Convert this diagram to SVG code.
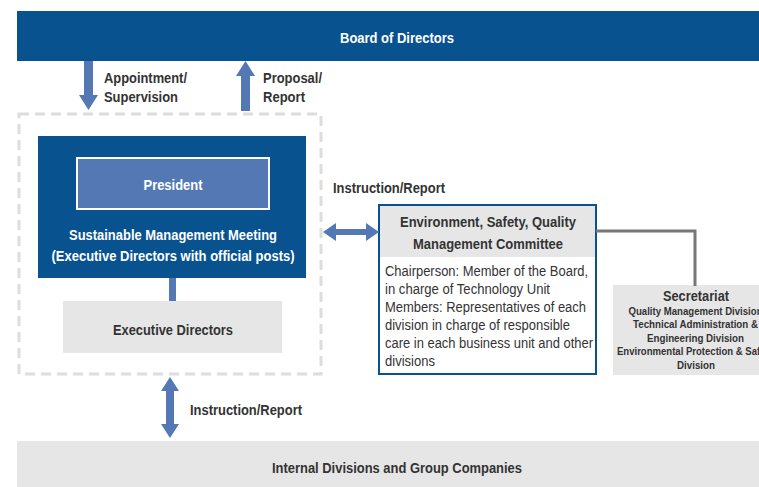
<svg xmlns="http://www.w3.org/2000/svg" width="759" height="487" viewBox="0 0 759 487">
<style>
text{font-family:"Liberation Sans",Arial,sans-serif;font-size:14px;fill:#333}
.b{font-weight:bold}
.w{fill:#fff}
.c{text-anchor:middle}
.s{font-size:11px;font-weight:bold}
.blue{fill:#07528f}
.gray{fill:#e6e6e6}
.arr{fill:#5478b4}
</style>
<rect width="759" height="487" fill="#fff"/>
<g id="board"><rect class="blue" x="17" y="11" width="742" height="50"/><text class="b w c" x="397" y="43" textLength="114" lengthAdjust="spacingAndGlyphs">Board of Directors</text></g>
<g id="group-box"><rect x="19" y="114" width="302" height="260" fill="none" stroke="#ddd" stroke-width="3" stroke-dasharray="10 6"/></g>
<g id="sustainable"><rect class="blue" x="38" y="136" width="268" height="142"/><text class="b w c" x="173" y="240" textLength="208" lengthAdjust="spacingAndGlyphs">Sustainable Management Meeting</text><text class="b w c" x="173" y="261" textLength="243" lengthAdjust="spacingAndGlyphs">(Executive Directors with official posts)</text></g>
<g id="president"><rect x="77" y="158" width="192" height="51" fill="#5478b4" stroke="#fff" stroke-width="2"/><text class="b w c" x="173" y="190" textLength="59" lengthAdjust="spacingAndGlyphs">President</text></g>
<g id="exec"><rect class="gray" x="63" y="301" width="219" height="52"/><text class="b c" x="173" y="335" textLength="120" lengthAdjust="spacingAndGlyphs">Executive Directors</text></g>
<g id="committee"><rect class="gray" x="379" y="205" width="217" height="52"/><rect x="379" y="205" width="217" height="169" fill="none" stroke="#07528f" stroke-width="2"/>
<text class="b c" x="488" y="227" textLength="176" lengthAdjust="spacingAndGlyphs">Environment, Safety, Quality</text><text class="b c" x="488" y="249" textLength="150" lengthAdjust="spacingAndGlyphs">Management Committee</text>
<text x="385" y="276" textLength="203" lengthAdjust="spacingAndGlyphs">Chairperson: Member of the Board,</text>
<text x="385" y="294" textLength="165" lengthAdjust="spacingAndGlyphs">in charge of Technology Unit</text>
<text x="385" y="312" textLength="201" lengthAdjust="spacingAndGlyphs">Members: Representatives of each</text>
<text x="385" y="330" textLength="185" lengthAdjust="spacingAndGlyphs">division in charge of responsible</text>
<text x="385" y="348" textLength="208" lengthAdjust="spacingAndGlyphs">care in each business unit and other</text>
<text x="385" y="366" textLength="50" lengthAdjust="spacingAndGlyphs">divisions</text></g>
<g id="secretariat"><rect class="gray" x="613" y="285" width="146" height="90"/>
<text class="b c" x="696" y="301" textLength="66" lengthAdjust="spacingAndGlyphs">Secretariat</text>
<text class="s c" x="695.5" y="315" textLength="134" lengthAdjust="spacingAndGlyphs">Quality Management Division</text>
<text class="s c" x="695.5" y="328" textLength="125" lengthAdjust="spacingAndGlyphs">Technical Administration &amp;</text>
<text class="s c" x="695.5" y="342" textLength="97" lengthAdjust="spacingAndGlyphs">Engineering Division</text>
<text class="s c" x="695.5" y="355" textLength="157" lengthAdjust="spacingAndGlyphs">Environmental Protection &amp; Safety</text>
<text class="s c" x="696" y="369" textLength="38" lengthAdjust="spacingAndGlyphs">Division</text></g>
<g id="internal"><rect class="gray" x="17" y="441" width="742" height="46"/><text class="b c" x="397" y="473" textLength="250" lengthAdjust="spacingAndGlyphs">Internal Divisions and Group Companies</text></g>
<g id="connectors">
<polygon class="arr" points="84,61 93,61 93,95 98,95 88.5,110 79,95 84,95"/>
<polygon class="arr" points="241,111 250,111 250,76 255,76 245.5,61 236,76 241,76"/>
<rect class="arr" x="169" y="278" width="7" height="23"/>
<polygon class="arr" points="323,232 336,223 336,229 366,229 366,223 379,232 366,241 366,235 336,235 336,241"/>
<polygon class="arr" points="170,377 179,391 174,391 174,424 179,424 170,438 161,424 166,424 166,391 161,391"/>
<polyline points="596,231 695,231 695,286" fill="none" stroke="#777" stroke-width="3"/>
<text class="b" x="104" y="83" textLength="83" lengthAdjust="spacingAndGlyphs">Appointment/</text><text class="b" x="104" y="102" textLength="74" lengthAdjust="spacingAndGlyphs">Supervision</text>
<text class="b" x="263" y="83" textLength="59" lengthAdjust="spacingAndGlyphs">Proposal/</text><text class="b" x="263" y="102" textLength="42" lengthAdjust="spacingAndGlyphs">Report</text>
<text class="b" x="333" y="193" textLength="112" lengthAdjust="spacingAndGlyphs">Instruction/Report</text>
<text class="b" x="190" y="415" textLength="112" lengthAdjust="spacingAndGlyphs">Instruction/Report</text>
</g>
</svg>
